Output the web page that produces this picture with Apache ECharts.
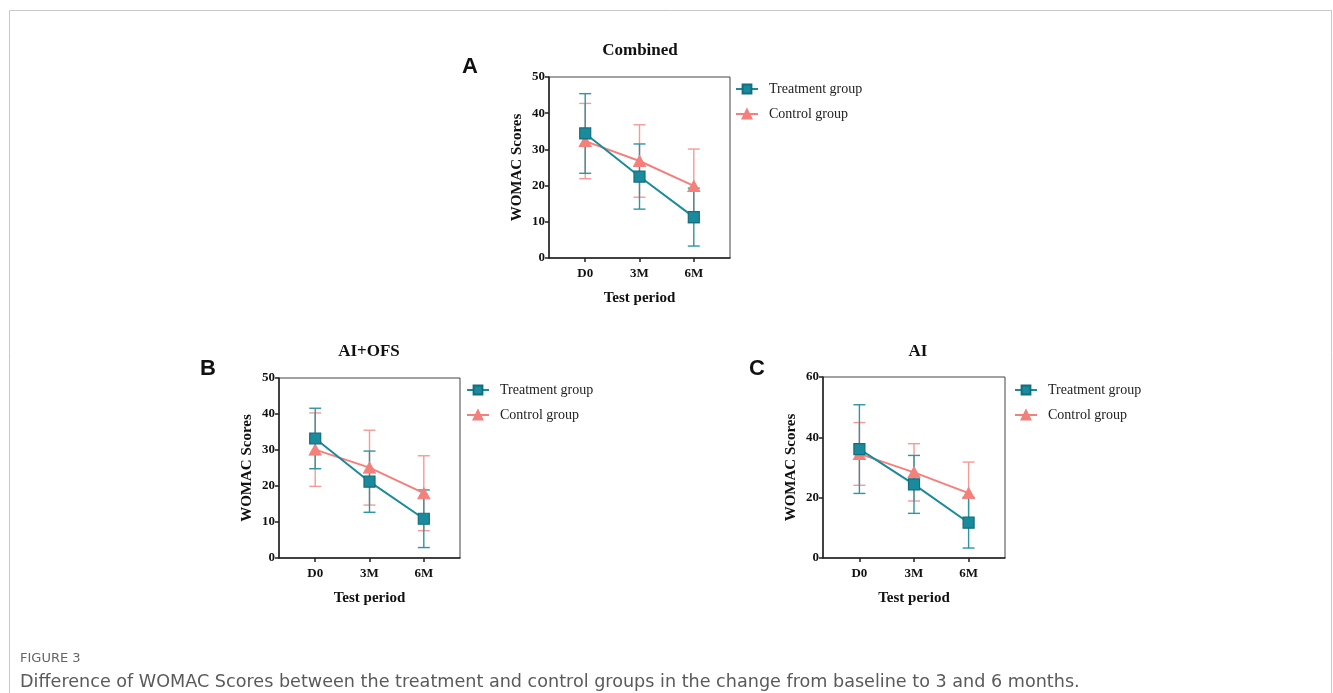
<!DOCTYPE html>
<html>
<head>
<meta charset="utf-8">
<script src="https://cdn.jsdelivr.net/npm/echarts@6/dist/echarts.min.js"></script>
<style>
html,body{margin:0;padding:0;background:#fff;}
#c{width:1333px;height:693px;}
</style>
</head>
<body>
<div id="c"></div>
<script>
// ---- data ----
const categories = ['D0', '3M', '6M'];
const seriesNames = ['Treatment group', 'Control group'];
const panelTitles = ['Combined', 'AI+OFS', 'AI'];
const panelLetters = ['A', 'B', 'C'];
const yMax = [50, 50, 60];
const yInterval = [10, 10, 20];

// Combined
const combinedTreatMean = [34.4, 22.5, 11.3];
const combinedTreatSD   = [11.0, 9.0, 8.0];
const combinedCtrlMean  = [32.3, 26.8, 19.9];
const combinedCtrlSD    = [10.4, 10.0, 10.2];
// AI+OFS
const aiofsTreatMean = [33.2, 21.2, 10.9];
const aiofsTreatSD   = [8.4, 8.5, 8.0];
const aiofsCtrlMean  = [30.1, 25.1, 18.0];
const aiofsCtrlSD    = [10.2, 10.4, 10.4];
// AI
const aiTreatMean = [36.1, 24.4, 11.7];
const aiTreatSD   = [14.7, 9.6, 8.4];
const aiCtrlMean  = [34.5, 28.4, 21.5];
const aiCtrlSD    = [10.4, 9.5, 10.3];

const panels = [
  {treatMean: combinedTreatMean, treatSD: combinedTreatSD, ctrlMean: combinedCtrlMean, ctrlSD: combinedCtrlSD},
  {treatMean: aiofsTreatMean, treatSD: aiofsTreatSD, ctrlMean: aiofsCtrlMean, ctrlSD: aiofsCtrlSD},
  {treatMean: aiTreatMean, treatSD: aiTreatSD, ctrlMean: aiCtrlMean, ctrlSD: aiCtrlSD}
];

// ---- layout / style ----
const TEAL = '#1a8b9c';
const TEAL_DARK = '#126f7f';
const TEAL_BAR = '#2f94a3';
const PINK = '#f4807c';
const PINK_BAR = '#f59a97';
const SERIF = '"Liberation Serif", "Times New Roman", serif';
const SANS = '"Liberation Sans", Arial, sans-serif';

const grids = [
  {left: 549, top: 77, width: 181, height: 181},
  {left: 279, top: 378, width: 181, height: 180},
  {left: 823, top: 377, width: 182, height: 181}
];
const legendPos = [
  {left: 735, top: 82},
  {left: 466, top: 383},
  {left: 1014, top: 383}
];
const titlePos = [
  {x: 640, y: 42},
  {x: 369, y: 343},
  {x: 918, y: 343}
];
const letterPos = [
  {x: 470, y: 68},
  {x: 208, y: 370},
  {x: 757, y: 370}
];

const xValues = categories.map((c, i) => i + 1);

function errorBarSeries(idx, means, sds, color, z) {
  return {
    type: 'custom',
    xAxisIndex: idx, yAxisIndex: idx,
    z: z, silent: true,
    data: means.map((m, i) => [xValues[i], m - sds[i], m + sds[i]]),
    encode: {x: 0, y: [1, 2]},
    renderItem: function (params, api) {
      const x = api.value(0);
      const lo = api.coord([x, api.value(1)]);
      const hi = api.coord([x, api.value(2)]);
      const hw = 6;
      const st = {stroke: color, lineWidth: 1.4};
      return {
        type: 'group',
        children: [
          {type: 'line', shape: {x1: lo[0], y1: lo[1], x2: hi[0], y2: hi[1]}, style: st},
          {type: 'line', shape: {x1: lo[0] - hw, y1: lo[1], x2: lo[0] + hw, y2: lo[1]}, style: st},
          {type: 'line', shape: {x1: hi[0] - hw, y1: hi[1], x2: hi[0] + hw, y2: hi[1]}, style: st}
        ]
      };
    }
  };
}

const option = {
  animation: false,
  backgroundColor: '#fff',
  title: [],
  legend: [],
  grid: [],
  xAxis: [],
  yAxis: [],
  series: [],
  graphic: [
    {type: 'rect', shape: {x: 9.5, y: 10.5, width: 1322, height: 720},
     style: {fill: 'none', stroke: '#c8c8c8', lineWidth: 1}, silent: true},
    {type: 'text', left: 20, top: 652,
     style: {text: 'FIGURE 3', font: '13px "DejaVu Sans", sans-serif', fill: '#666'}},
    {type: 'text', left: 20, top: 673,
     style: {text: 'Difference of WOMAC Scores between the treatment and control groups in the change from baseline to 3 and 6 months.',
             font: '17.6px "DejaVu Sans", sans-serif', fill: '#5a5a5a'}}
  ]
};

panels.forEach((p, i) => {
  const g = grids[i];
  option.grid.push(Object.assign({show: true, borderColor: '#444', borderWidth: 1, backgroundColor: 'transparent'}, g));
  option.xAxis.push({
    type: 'value', gridIndex: i, min: 1 / 3, max: 11 / 3,
    name: 'Test period', nameLocation: 'middle', nameGap: 33,
    nameTextStyle: {fontFamily: SERIF, fontWeight: 'bold', fontSize: 15, color: '#111'},
    axisLine: {show: true, onZero: false, lineStyle: {color: '#222', width: 1.5}},
    axisTick: {show: true, length: 4, customValues: xValues, lineStyle: {color: '#222', width: 1.5}},
    axisLabel: {customValues: xValues, formatter: v => categories[Math.round(v) - 1] || '',
                fontFamily: SERIF, fontWeight: 'bold', fontSize: 13, color: '#111', margin: 9},
    splitLine: {show: false}
  });
  option.yAxis.push({
    type: 'value', gridIndex: i, min: 0, max: yMax[i], interval: yInterval[i],
    name: 'WOMAC Scores', nameLocation: 'middle', nameGap: 24,
    nameTextStyle: {fontFamily: SERIF, fontWeight: 'bold', fontSize: 15, color: '#111'},
    axisLine: {show: true, lineStyle: {color: '#222', width: 1.5}},
    axisTick: {show: true, length: 4, lineStyle: {color: '#222', width: 1.5}},
    axisLabel: {fontFamily: SERIF, fontWeight: 'bold', fontSize: 13, color: '#111', margin: 4},
    splitLine: {show: false}
  });
  option.title.push({
    text: panelTitles[i], left: titlePos[i].x, top: titlePos[i].y, textAlign: 'center', padding: 0,
    textStyle: {fontFamily: SERIF, fontWeight: 'bold', fontSize: 17, color: '#111'}
  });
  option.title.push({
    text: panelLetters[i], left: letterPos[i].x, top: letterPos[i].y - 12, textAlign: 'center', padding: 0,
    textStyle: {fontFamily: SANS, fontWeight: 'bold', fontSize: 22, color: '#111'}
  });
  option.legend.push({
    orient: 'vertical', left: legendPos[i].left, top: legendPos[i].top, padding: 0,
    itemWidth: 22, itemHeight: 11, itemGap: 11,
    data: seriesNames,
    textStyle: {fontFamily: SERIF, fontSize: 14, color: '#222', padding: [0, 0, 0, 6]}
  });
  option.series.push(errorBarSeries(i, p.ctrlMean, p.ctrlSD, PINK_BAR, 1));
  option.series.push(errorBarSeries(i, p.treatMean, p.treatSD, TEAL_BAR, 2));
  option.series.push({
    type: 'line', name: seriesNames[1], xAxisIndex: i, yAxisIndex: i, z: 3,
    data: p.ctrlMean.map((m, k) => [xValues[k], m]),
    symbol: 'triangle', symbolSize: [12, 11],
    lineStyle: {color: PINK, width: 2},
    itemStyle: {color: PINK, borderColor: PINK, borderWidth: 1}
  });
  option.series.push({
    type: 'line', name: seriesNames[0], xAxisIndex: i, yAxisIndex: i, z: 4,
    data: p.treatMean.map((m, k) => [xValues[k], m]),
    symbol: 'rect', symbolSize: 11,
    lineStyle: {color: TEAL, width: 2},
    itemStyle: {color: TEAL, borderColor: TEAL_DARK, borderWidth: 1.2}
  });
});

const chart = echarts.init(document.getElementById('c'), null, {renderer: 'canvas'});
chart.setOption(option);
</script>
</body>
</html>
